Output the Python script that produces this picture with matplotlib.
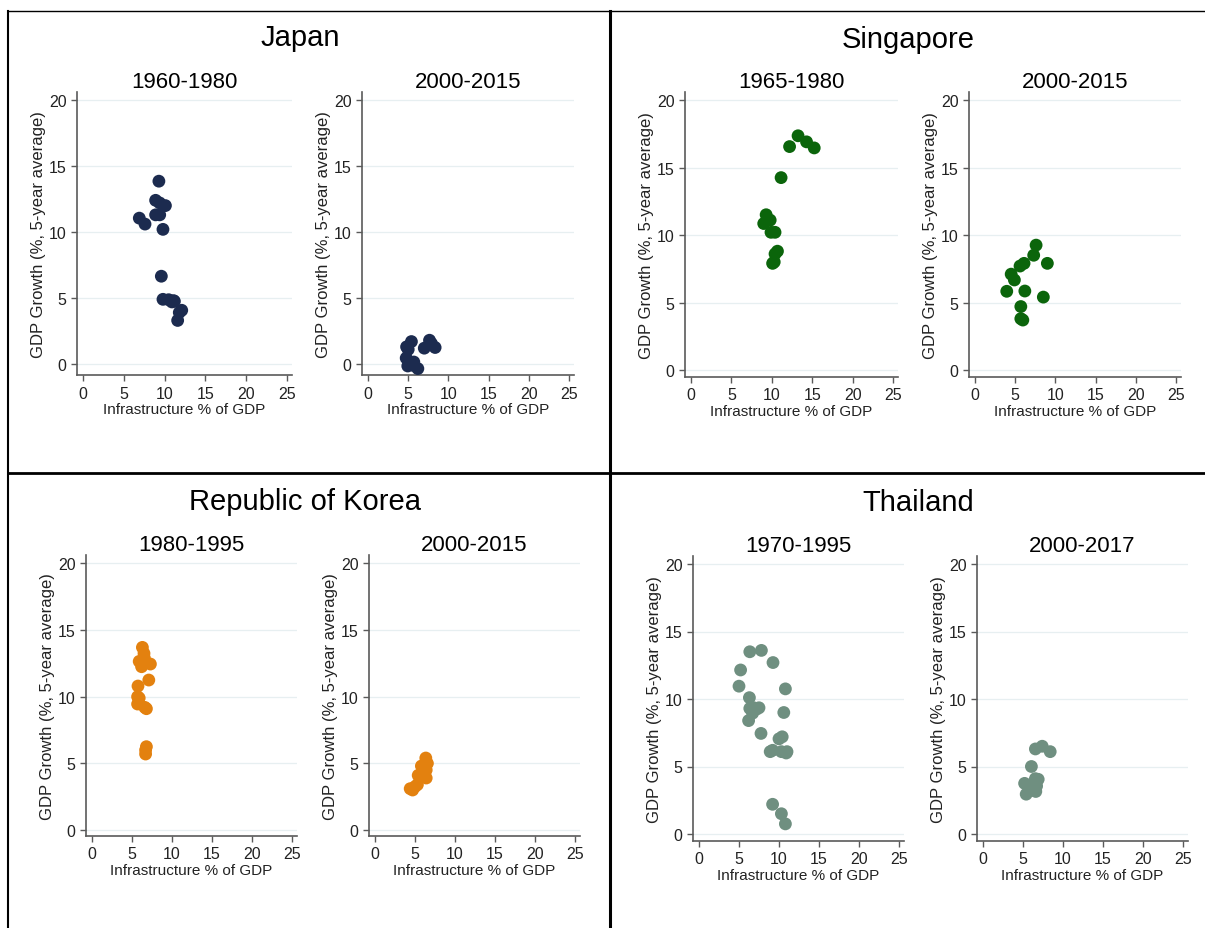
import matplotlib
matplotlib.use('Agg')
import matplotlib.pyplot as plt
from matplotlib.lines import Line2D

plt.rcParams['font.family'] = ['Liberation Sans', 'DejaVu Sans']

# ---- data ----
countries = ['Japan', 'Singapore', 'Republic of Korea', 'Thailand']
periods = [['1960-1980', '2000-2015'], ['1965-1980', '2000-2015'],
           ['1980-1995', '2000-2015'], ['1970-1995', '2000-2017']]
colors = ['#1c2b4f', '#0b650b', '#e3810f', '#6f8f80']

jp1_x = [6.9, 7.6, 9.3, 8.9, 9.4, 10.1, 8.9, 9.4, 9.8, 9.6, 9.8, 10.5, 11.1, 10.9, 11.2, 12.1, 11.8, 11.6]
jp1_y = [11.05, 10.6, 13.85, 12.4, 12.2, 12.0, 11.3, 11.3, 10.2, 6.65, 4.9, 4.87, 4.8, 4.7, 4.75, 4.07, 3.9, 3.3]
jp2_x = [5.4, 4.8, 5.0, 4.75, 5.25, 5.7, 4.95, 5.6, 6.2, 7.0, 7.65, 7.9, 8.35]
jp2_y = [1.7, 1.3, 1.1, 0.45, 0.15, 0.15, -0.15, -0.1, -0.35, 1.2, 1.8, 1.55, 1.25]

sg1_x = [13.25, 14.3, 15.25, 12.2, 11.15, 9.3, 9.5, 9.8, 9.0, 9.9, 10.4, 10.7, 10.4, 10.1, 10.3]
sg1_y = [17.35, 16.9, 16.45, 16.55, 14.25, 11.5, 11.15, 11.1, 10.85, 10.2, 10.2, 8.8, 8.6, 7.9, 8.0]
sg2_x = [3.95, 4.5, 4.9, 5.6, 6.1, 7.3, 7.6, 9.0, 6.2, 8.5, 5.7, 5.7, 5.95]
sg2_y = [5.83, 7.1, 6.67, 7.7, 7.9, 8.5, 9.25, 7.9, 5.85, 5.4, 4.7, 3.8, 3.7]

kr1_x = [6.3, 6.5, 6.55, 5.9, 6.2, 7.3, 7.1, 5.75, 5.7, 5.9, 5.7, 6.6, 6.8, 6.8, 6.7, 6.7]
kr1_y = [13.7, 13.25, 12.9, 12.65, 12.25, 12.45, 11.25, 10.8, 10.0, 9.9, 9.45, 9.2, 9.1, 6.25, 6.0, 5.7]
kr2_x = [6.35, 6.55, 5.8, 6.4, 5.4, 6.4, 5.3, 5.0, 4.4, 4.7]
kr2_y = [5.4, 5.0, 4.8, 4.5, 4.1, 3.9, 3.4, 3.25, 3.1, 3.0]

th1_x = [6.35, 7.8, 9.25, 5.2, 5.0, 10.8, 6.3, 6.35, 6.85, 7.5, 7.2, 6.7, 10.6, 6.2, 7.75,
         10.4, 10.0, 9.2, 8.9, 10.3, 11.0, 10.9, 9.2, 10.3, 10.8]
th1_y = [13.5, 13.6, 12.7, 12.15, 10.95, 10.75, 10.1, 9.3, 9.35, 9.35, 9.25, 8.95, 9.0, 8.4, 7.45,
         7.2, 7.05, 6.2, 6.1, 6.1, 6.1, 6.0, 2.2, 1.5, 0.75]
th2_x = [6.55, 7.4, 8.4, 6.05, 5.2, 6.55, 6.9, 6.6, 5.85, 6.25, 5.4, 6.6, 6.7]
th2_y = [6.3, 6.5, 6.1, 5.0, 3.75, 4.1, 4.05, 3.6, 3.45, 3.25, 2.95, 3.15, 3.55]

series = [[(jp1_x, jp1_y), (jp2_x, jp2_y)],
          [(sg1_x, sg1_y), (sg2_x, sg2_y)],
          [(kr1_x, kr1_y), (kr2_x, kr2_y)],
          [(th1_x, th1_y), (th2_x, th2_y)]]

# ---- layout in pixels: (x of value 0, px per unit x, y of value 0, px per unit y, ymin) ----
W, H = 1205, 929
geom = [[(83, 8.16, 365, 13.2, -0.86), (368, 8.04, 365, 13.2, -0.86)],
        [(691, 8.08, 371, 13.5, -0.52), (975, 8.04, 371, 13.5, -0.52)],
        [(92, 8.0, 831, 13.33, -0.45), (375, 8.0, 831, 13.33, -0.45)],
        [(699, 8.0, 835, 13.5, -0.52), (983, 8.0, 835, 13.5, -0.52)]]
title_pos = [(300, 38), (908, 40), (305, 502), (918, 503)]
xlim = (-0.75, 25.6)
ytop = 20.6

fig = plt.figure(figsize=(W / 100, H / 100), dpi=100)
fig.patch.set_facecolor('white')

for ci in range(4):
    tx, ty = title_pos[ci]
    fig.text(tx / W, 1 - ty / H, countries[ci], fontsize=21, ha='center', va='center', color='black')
    for pi in range(2):
        x0, sx, y0, sy, ymin = geom[ci][pi]
        left = x0 + xlim[0] * sx
        right = x0 + xlim[1] * sx
        bot = y0 - ymin * sy
        top = y0 - ytop * sy
        ax = fig.add_axes([left / W, 1 - bot / H, (right - left) / W, (bot - top) / H])
        xs, ys = series[ci][pi]
        ax.scatter(xs, ys, s=85, color=colors[ci], edgecolors='none', zorder=3)
        ax.set_xlim(xlim)
        ax.set_ylim(ymin, ytop)
        ax.set_xticks([0, 5, 10, 15, 20, 25])
        ax.set_yticks([0, 5, 10, 15, 20])
        ax.grid(axis='y', color='#e7eff1', linewidth=0.9, zorder=0)
        ax.set_axisbelow(True)
        for sp in ['top', 'right']:
            ax.spines[sp].set_visible(False)
        for sp in ['left', 'bottom']:
            ax.spines[sp].set_color('#5a5a5a')
            ax.spines[sp].set_linewidth(1.2)
        ax.tick_params(colors='#5a5a5a', labelcolor='#222222', labelsize=11.5, length=4, width=1)
        ax.set_xlabel('Infrastructure % of GDP', fontsize=11, color='#222222', labelpad=1)
        ax.set_ylabel('GDP Growth (%, 5-year average)', fontsize=12, color='#222222', labelpad=2)
        ax.set_title(periods[ci][pi], fontsize=16, color='black', pad=1)

# table borders around the four pictures
lines = [((8, 1205), (12, 12), 1.0), ((8, 8), (12, 929), 1.5),
         ((610, 610), (12, 929), 2.2), ((8, 1205), (474, 474), 2.0)]
for (xa, xb), (ya, yb), lw in lines:
    fig.add_artist(Line2D([xa / W, xb / W], [1 - ya / H, 1 - yb / H], color='black', linewidth=lw))

fig.savefig('out.png', dpi=100)
